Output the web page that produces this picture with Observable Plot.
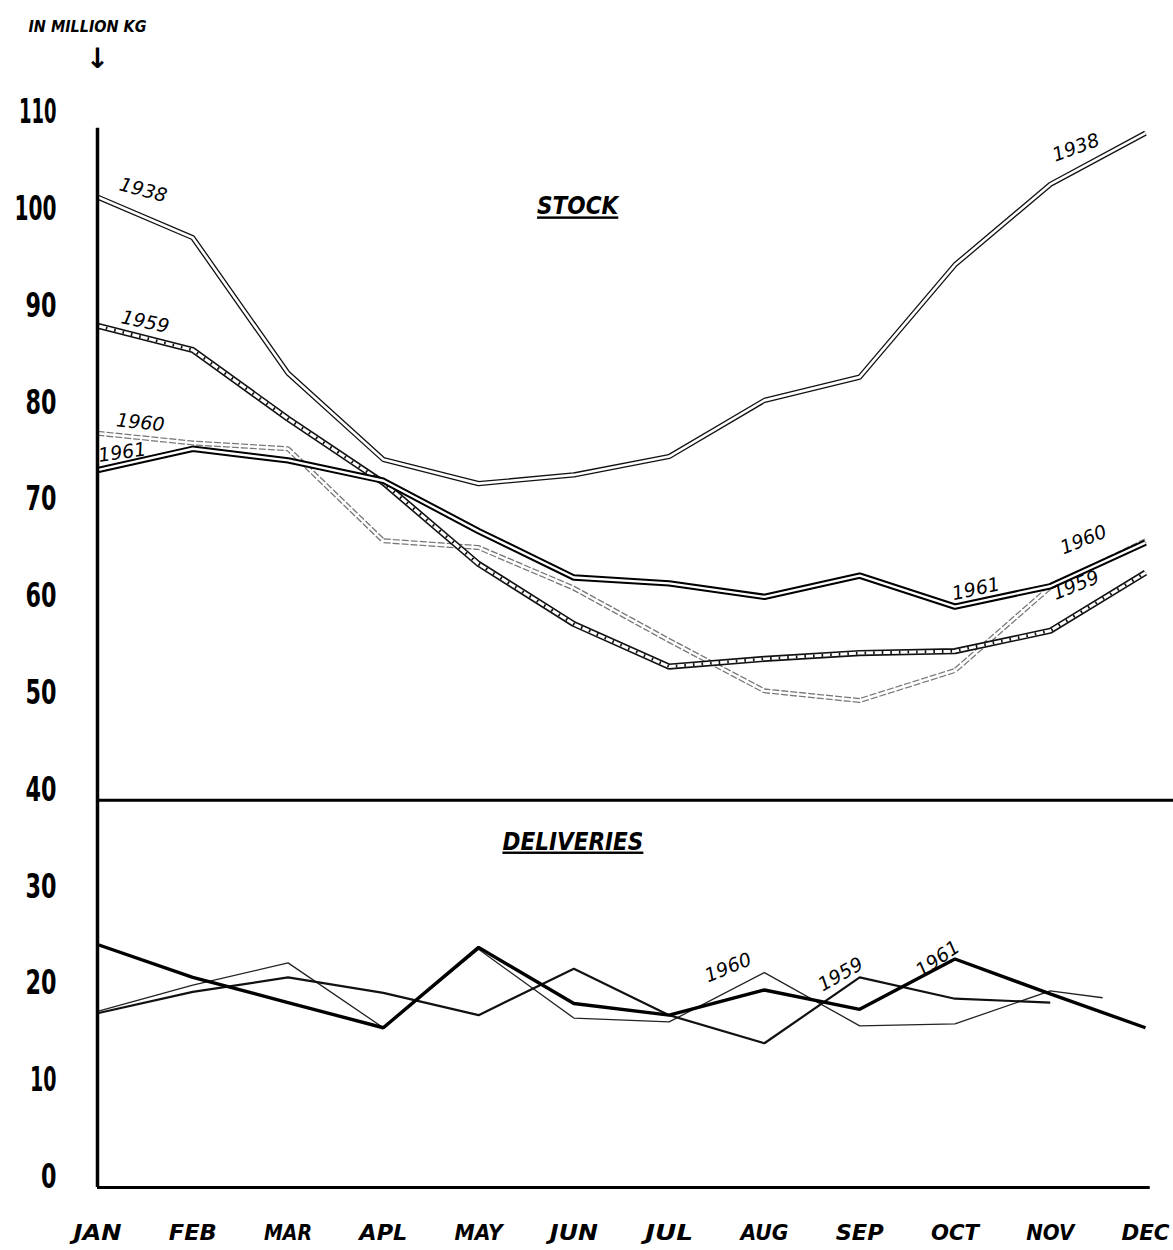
<!DOCTYPE html>
<html><head><meta charset="utf-8">
<script src="https://cdn.jsdelivr.net/npm/d3@7"></script>
<script src="https://cdn.jsdelivr.net/npm/@observablehq/plot@0.6"></script>
<style>body{margin:0;background:#fff} svg{display:block}</style>
</head><body><div id="chart"></div>
<script>
// ---------- data ----------
const months = ["JAN","FEB","MAR","APL","MAY","JUN","JUL","AUG","SEP","OCT","NOV","DEC"];
const yTicks = [0,10,20,30,40,50,60,70,80,90,100,110];

// STOCK (million kg)
const stock1938 = [102.3, 98.1, 84.1, 75.2, 72.7, 73.6, 75.5, 81.3, 83.7, 95.3, 103.6, 108.9];
const stock1959 = [89.0, 86.5, 79.4, 72.8, 64.4, 58.2, 53.8, 54.6, 55.2, 55.4, 57.5, 63.5];
const stock1960 = [77.9, 76.9, 76.3, 66.8, 66.1, 61.9, 56.5, 51.3, 50.3, 53.4, 62.0, 66.8];
const stock1961 = [74.1, 76.3, 75.1, 73.0, 67.8, 63.0, 62.4, 61.0, 63.2, 60.0, 62.1, 66.6];

// DELIVERIES (million kg)
const deliv1959 = [18.0, 20.2, 21.7, 20.1, 17.8, 22.6, 17.8, 14.9, 21.7, 19.5, 19.1];
const deliv1960 = [18.2, 20.9, 23.2, 16.5, 24.6, 17.5, 17.1, 22.2, 16.7, 16.9, 20.3, 19.6];
const deliv1960Months = [0,1,2,3,4,5,6,7,8,9,10,10.55];
const deliv1961 = [25.1, 21.7, 19.1, 16.5, 24.8, 19.0, 17.8, 20.4, 18.4, 23.6, 20.0, 16.5];

// line labels: month position, value, text, rotation
const lineLabels = [
  {m: 0.48, v: 103.0, t: "1938", r: 15},
  {m: 10.27, v: 107.4, t: "1938", r: -20},
  {m: 0.50, v: 89.4, t: "1959", r: 12},
  {m: 0.45, v: 79.0, t: "1960", r: 6},
  {m: 0.26, v: 75.9, t: "1961", r: -8},
  {m: 9.22, v: 61.8, t: "1961", r: -12},
  {m: 10.35, v: 66.9, t: "1960", r: -22},
  {m: 10.27, v: 62.2, t: "1959", r: -22},
  {m: 6.62, v: 22.7, t: "1960", r: -22},
  {m: 7.80, v: 22.0, t: "1959", r: -30},
  {m: 8.82, v: 23.6, t: "1961", r: -35}
];
const sectionLabels = [
  {m: 5.04, v: 101.3, t: "STOCK"},
  {m: 4.99, v: 35.7, t: "DELIVERIES"}
];
const unitLabel = "IN MILLION KG";
const axisTop = 109.4;      // top of the vertical axis line (value)
const dividerValue = 40;

// ---------- helpers ----------
const rows = (vals, ms = d3.range(vals.length)) => vals.map((v, i) => ({m: ms[i], v}));
const s38 = rows(stock1938), s59 = rows(stock1959), s60 = rows(stock1960), s61 = rows(stock1961);
const d59 = rows(deliv1959), d60 = rows(deliv1960, deliv1960Months), d61 = rows(deliv1961);

const L = (data, o) => Plot.line(data, {x: "m", y: "v", strokeLinejoin: "miter", strokeLinecap: "butt", ...o});
const numFont = "'DejaVu Sans Condensed','DejaVu Sans',sans-serif";
const hand = "'DejaVu Sans',sans-serif";

const chart = Plot.plot({
  width: 1173,
  height: 1250,
  marginLeft: 97,
  marginRight: 28,
  marginTop: 122,
  marginBottom: 63,
  x: {domain: [0, 11], axis: null},
  y: {domain: [0, 110], axis: null},
  style: {background: "white", overflow: "visible"},
  marks: [
    // stock 1960 - faded double dashed
    L(s60, {stroke: "#777", strokeWidth: 5, strokeDasharray: "7,2"}),
    L(s60, {stroke: "#fff", strokeWidth: 2.4}),
    // stock 1938 - double line
    L(s38, {stroke: "#111", strokeWidth: 5.2}),
    L(s38, {stroke: "#fff", strokeWidth: 2.6}),
    // stock 1959 - ladder double line
    L(s59, {stroke: "#111", strokeWidth: 6.2}),
    L(s59, {stroke: "#fff", strokeWidth: 3}),
    L(s59, {stroke: "#111", strokeWidth: 3, strokeDasharray: "1.6,7"}),
    // stock 1961 - bold double line
    L(s61, {stroke: "#000", strokeWidth: 6.4}),
    L(s61, {stroke: "#fff", strokeWidth: 2.4}),

    // deliveries
    L(d60, {stroke: "#222", strokeWidth: 1.3}),
    L(d59, {stroke: "#111", strokeWidth: 2.2}),
    L(d61, {stroke: "#000", strokeWidth: 3.4}),

    // axes / frame lines
    Plot.ruleX([0], {y1: 0, y2: axisTop, stroke: "#000", strokeWidth: 3.5}),
    Plot.ruleY([0], {x1: 0, x2: 11.05, stroke: "#000", strokeWidth: 3}),
    Plot.ruleY([dividerValue], {x1: 0, x2: 11.3, stroke: "#000", strokeWidth: 3}),

    // y tick labels
    Plot.text(yTicks, {y: d => d, text: d => String(d), frameAnchor: "left", dx: -41, dy: -10,
      textAnchor: "end", fontSize: 33, fontWeight: "bold", fontFamily: numFont, fill: "#000"}),
    // month labels
    Plot.text(d3.range(12), {x: d => d, text: d => months[d], frameAnchor: "bottom", dy: 52,
      fontSize: 22, fontWeight: "bold", fontStyle: "italic", fontFamily: numFont, fill: "#000"}),

    // unit label and arrow
    Plot.text([unitLabel], {frameAnchor: "top-left", dx: -69, dy: -102, textAnchor: "start",
      fontSize: 16, fontWeight: "bold", fontStyle: "italic", fontFamily: numFont, fill: "#000"}),
    Plot.text(["↓"], {frameAnchor: "top-left", dy: -74, textAnchor: "middle", fontSize: 28,
      fontWeight: "bold", fontFamily: hand, fill: "#000"}),

    // section labels
    Plot.text(sectionLabels, {x: "m", y: "v", text: "t", fontSize: 24, fontWeight: "bold",
      fontStyle: "italic", fontFamily: numFont, fill: "#000"}),

    // line labels
    Plot.text(lineLabels, {x: "m", y: "v", text: "t", rotate: "r", fontSize: 19,
      fontStyle: "italic", fontFamily: hand, fill: "#000"})
  ]
});

const svg = d3.select(chart);
const tickSet = new Set(yTicks.map(String));
const monthSet = new Set(months);
// tall, narrow numerals and month names as in the original lettering
svg.selectAll("text").each(function() {
  const s = this.textContent;
  if (tickSet.has(s)) {
    const w = Array.from(s).reduce((a, c) => a + (c === "1" ? 11 : 15.5), 0);
    this.setAttribute("textLength", w);
    this.setAttribute("lengthAdjust", "spacingAndGlyphs");
  } else if (monthSet.has(s)) {
    this.setAttribute("textLength", 48);
    this.setAttribute("lengthAdjust", "spacingAndGlyphs");
  } else if (s === "STOCK" || s === "DELIVERIES") {
    this.style.textDecoration = "underline";
    this.style.textDecorationThickness = "3px";
    this.style.textUnderlineOffset = "5px";
  }
});

document.getElementById("chart").appendChild(chart);
</script>
</body></html>
